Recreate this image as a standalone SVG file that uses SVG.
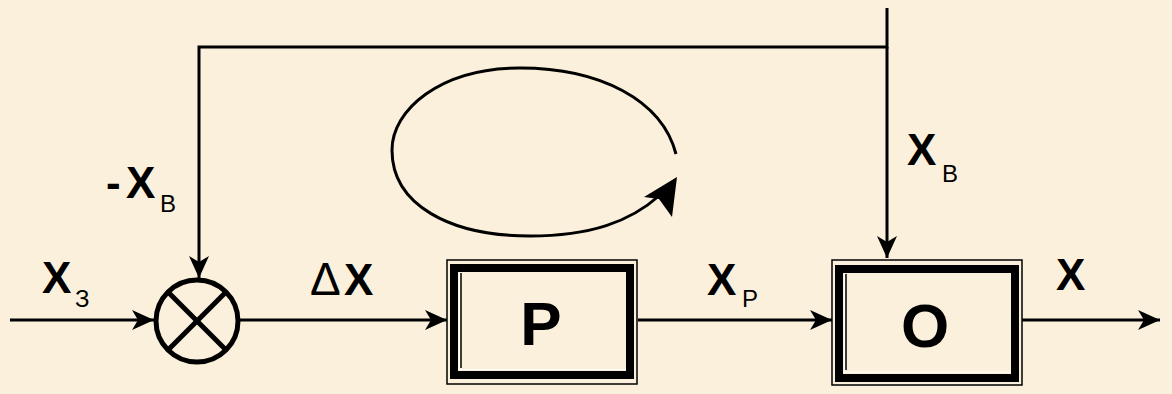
<svg xmlns="http://www.w3.org/2000/svg" width="1172" height="394" viewBox="0 0 1172 394">
<style>
.bg{fill:#FAF0DB}
.ln{fill:none;stroke:#000;stroke-width:3}
.lbl{font-family:"Liberation Sans",Arial,sans-serif;font-weight:bold;font-size:44px;fill:#000}
.sub{font-family:"Liberation Sans",Arial,sans-serif;font-size:24px;fill:#000}
.blk{font-family:"Liberation Sans",Arial,sans-serif;font-weight:bold;font-size:62px;fill:#000}
.outer{fill:none;stroke:#000;stroke-width:1.5}
.thick{fill:none;stroke:#000;stroke-width:8}
.inner{fill:none;stroke:#000;stroke-width:1.5}
.hl{fill:none;stroke:#fff;stroke-width:1.2}
</style>
<defs>
<marker id="ah" markerUnits="userSpaceOnUse" markerWidth="24" markerHeight="24" viewBox="0 -12 24 24" refX="22" refY="0" orient="auto">
<path d="M0,-10 L22,0 L0,10 L6,0 z" fill="#000"/>
</marker>
</defs>
<rect class="bg" x="0" y="0" width="1172" height="394"/>

<g id="connectors">
<line class="ln" x1="10" y1="320" x2="154" y2="320" marker-end="url(#ah)"/>
<line class="ln" x1="239" y1="320" x2="447" y2="320" marker-end="url(#ah)"/>
<line class="ln" x1="638" y1="320" x2="832" y2="320" marker-end="url(#ah)"/>
<line class="ln" x1="1022" y1="320" x2="1160" y2="320" marker-end="url(#ah)"/>
<polyline class="ln" points="887,8 887,47 199,47 199,278" marker-end="url(#ah)"/>
<line class="ln" x1="887" y1="47" x2="887" y2="258" marker-end="url(#ah)"/>
<path class="ln" d="M676 154 C662 100, 600 68, 520 68 C440 68, 392 110, 392 150 C392 205, 450 236, 530 236 C590 236, 630 222, 660 195"/>
<polygon points="677,177 644,197 659,199 672,217" fill="#000"/>
</g>

<g id="sum">
<circle cx="197" cy="321" r="41" fill="none" stroke="#000" stroke-width="5"/>
<line x1="168" y1="292" x2="226" y2="350" stroke="#000" stroke-width="5"/>
<line x1="226" y1="292" x2="168" y2="350" stroke="#000" stroke-width="5"/>
</g>

<g id="P" transform="translate(447,260)">
<rect class="outer" x="0" y="0" width="190" height="124"/>
<rect class="thick" x="7" y="8" width="176" height="107"/>
<polyline class="hl" points="12.5,13 12.5,109.5 178,109.5"/>
<line class="inner" x1="14" y1="13" x2="14" y2="108"/>
<text class="blk" x="94" y="85" text-anchor="middle">Р</text>
</g>

<g id="O" transform="translate(832,260)">
<rect class="outer" x="0" y="0" width="190" height="125"/>
<rect class="thick" x="7" y="9" width="176" height="109"/>
<polyline class="hl" points="12.5,14 12.5,112 178,112"/>
<line class="inner" x1="14" y1="14" x2="14" y2="110"/>
<text class="blk" x="93" y="87" text-anchor="middle">О</text>
</g>

<g id="labels">
<text class="lbl" x="42" y="293">Х</text><text class="sub" x="75" y="307">З</text>
<text class="lbl" x="106" y="198">-</text><text class="lbl" x="126" y="198">Х</text><text class="sub" x="160" y="212">В</text>
<text class="lbl" x="907" y="165">Х</text><text class="sub" x="942" y="182">В</text>
<text class="sub" x="310" y="295" style="font-size:46px">Δ</text><text class="lbl" x="344" y="295">Х</text>
<text class="lbl" x="707" y="295">Х</text><text class="sub" x="742" y="307">Р</text>
<text class="lbl" x="1056" y="290">Х</text>
</g>
</svg>
